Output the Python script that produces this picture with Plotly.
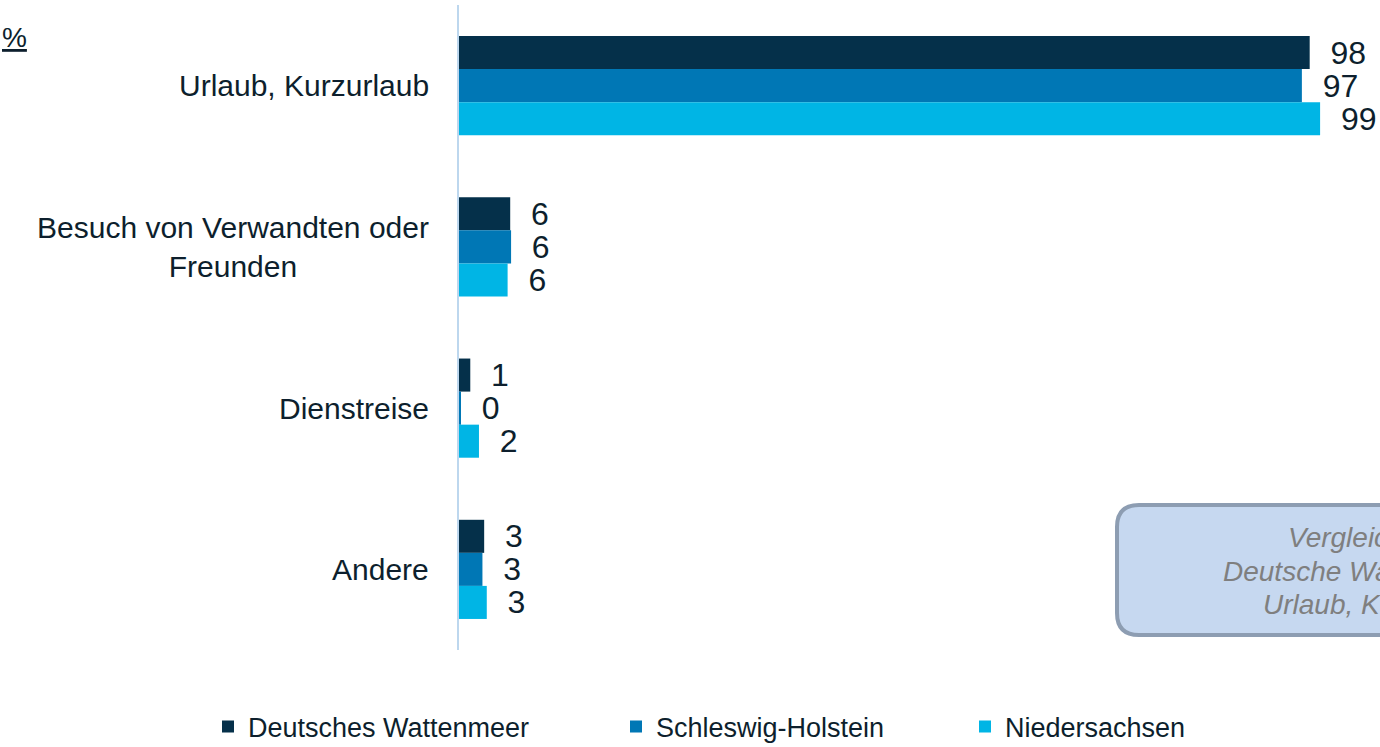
import plotly.graph_objects as go

categories = ["Urlaub, Kurzurlaub", "Besuch von Verwandten oder<br>Freunden", "Dienstreise", "Andere"]
series_names = ["Deutsches Wattenmeer", "Schleswig-Holstein", "Niedersachsen"]
dw_values = [98.0, 5.9, 1.3, 2.9]
sh_values = [97.1, 6.0, 0.2, 2.7]
ni_values = [99.2, 5.6, 2.3, 3.2]
colors = ["#05304a", "#0077b5", "#00b5e5"]
box_lines = ["Vergleich zum", "Deutsche Wattenmeerküste", "Urlaub, Kurzurlaub"]

TEXT = "#0d1f2d"
FONT = "Liberation Sans, Arial, sans-serif"
W, H = 1380, 747
L, R, T, B = 459, 0, 5, 97
PW, PH = W - L - R, H - T - B


def px_x(x):
    return (x - L) / PW


def px_y(y):
    return (H - B - y) / PH


legend_ids = ["legend", "legend2", "legend3"]
legend_text_x = [248, 656, 1005]

fig = go.Figure()
for name, vals, col, lid in zip(series_names, [dw_values, sh_values, ni_values], colors, legend_ids):
    fig.add_trace(go.Bar(
        y=categories, x=vals, name=name, orientation="h", legend=lid,
        marker=dict(color=col, line=dict(width=0)),
        texttemplate="\u00a0\u00a0%{x:.0f}", textposition="outside",
        textfont=dict(size=32, color=TEXT, family=FONT),
        constraintext="none", cliponaxis=False,
    ))

# category labels (centered multi-line, right of axis)
for c in categories:
    fig.add_annotation(
        x=0, xref="paper", y=c, yref="y", xanchor="right", yanchor="middle",
        xshift=-28, text=c, showarrow=False, align="center",
        font=dict(size=30, color=TEXT, family=FONT),
    )

fig.add_annotation(
    x=px_x(0), xref="paper", y=px_y(38), yref="paper", xanchor="left", yanchor="middle",
    text="<u>%</u>", showarrow=False, font=dict(size=28, color=TEXT, family=FONT),
)

# rounded comparison box
x0, x1 = px_x(1117), 1.35
y0, y1 = px_y(635), px_y(505)
rx, ry = 22 / PW, 22 / PH
path = (f"M{x0+rx},{y1} L{x1},{y1} L{x1},{y0} L{x0+rx},{y0} "
        f"Q{x0},{y0} {x0},{y0+ry} L{x0},{y1-ry} Q{x0},{y1} {x0+rx},{y1} Z")
fig.add_shape(type="path", path=path, xref="paper", yref="paper",
              fillcolor="#c6d8f0", line=dict(color="#8d9db2", width=4), layer="above")
for txt, xs, yc in zip(box_lines, [1286, 1221, 1261], [537, 571, 604]):
    fig.add_annotation(
        x=px_x(xs), xref="paper", y=px_y(yc), yref="paper",
        xanchor="left", yanchor="middle", text=f"<i>{txt}</i>", showarrow=False,
        font=dict(size=28, color="#7f7f7f", family=FONT),
    )

legend_common = dict(orientation="h", xref="container", yref="container",
                     xanchor="left", y=1 - 727 / H, yanchor="middle",
                     font=dict(size=27, color=TEXT, family=FONT),
                     bgcolor="rgba(0,0,0,0)")
legends = {lid: dict(legend_common, x=(tx - 40) / W) for lid, tx in zip(legend_ids, legend_text_x)}

fig.update_layout(
    width=W, height=H,
    margin=dict(l=L, r=R, t=T, b=B),
    paper_bgcolor="white", plot_bgcolor="white",
    barmode="group", bargap=0.385, bargroupgap=0,
    showlegend=True,
    xaxis=dict(range=[0, 106.1], visible=False, showgrid=False, zeroline=False),
    yaxis=dict(autorange="reversed", showticklabels=False, ticks="", showgrid=False,
               showline=True, linecolor="#bdd7ee", linewidth=2, zeroline=False),
    font=dict(family=FONT, color=TEXT),
    **legends,
)

fig.write_html("out.html", config={"displayModeBar": False},
               post_script="document.body.style.margin='0';document.body.style.overflow='hidden';")
